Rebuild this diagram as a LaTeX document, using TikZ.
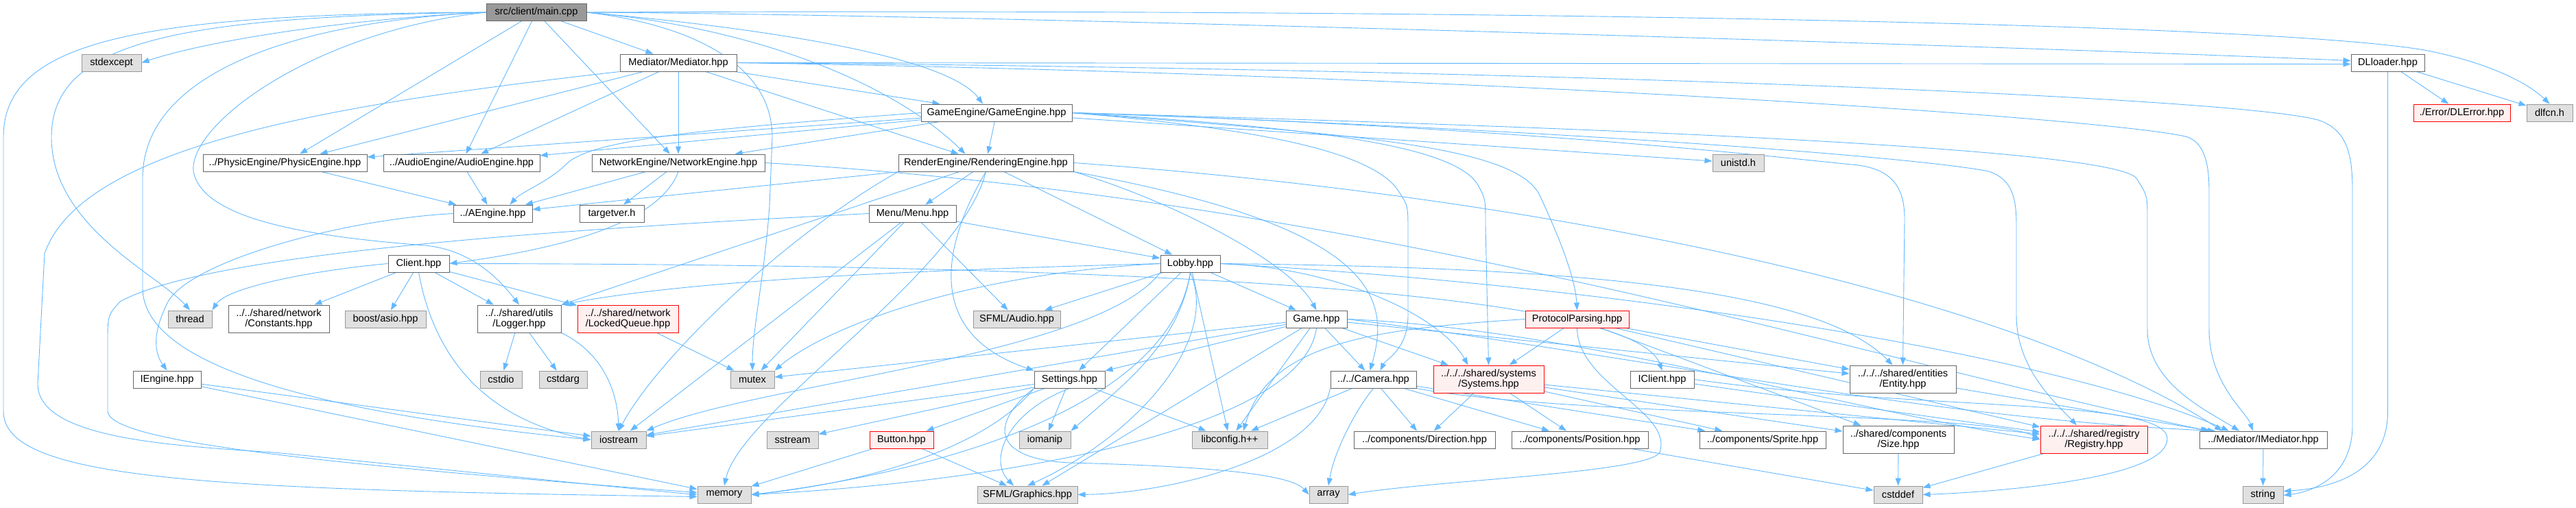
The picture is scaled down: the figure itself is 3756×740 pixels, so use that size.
\documentclass[tikz,border=0pt]{standalone}
\usepackage{fontspec}
\setmainfont{Liberation Sans}
\usetikzlibrary{arrows.meta}
\pgfdeclarelayer{bg}
\pgfsetlayers{bg,main}
\definecolor{edgec}{HTML}{63B8FF}
\definecolor{bord}{HTML}{666666}
\definecolor{extfill}{HTML}{E0E0E0}
\definecolor{extbord}{HTML}{999999}
\definecolor{redfill}{HTML}{FFF0F0}
\definecolor{rootfill}{HTML}{999999}
\tikzset{
  nbox/.style={draw=bord, fill=white, line width=1pt, minimum height=25pt, inner sep=0pt,
               font=\fontsize{14.6pt}{15.5pt}\selectfont, align=center},
  extn/.style={nbox, draw=extbord, fill=extfill},
  trunc/.style={nbox, draw=red, fill=redfill},
  rootn/.style={nbox, fill=rootfill},
  dbl/.style={minimum height=40pt},
  edg/.style={draw=edgec, line width=0.9pt, -{Triangle[length=11pt,width=8pt]}},
}
\begin{document}
\begin{tikzpicture}[x=1pt,y=1pt]
\useasboundingbox (0,0) rectangle (3756,-740);
% row 0
\node[rootn, minimum width=146pt] (main) at (782,-18) {src/client/main.cpp};
% row 1
\node[extn, minimum width=87pt] (stdexcept) at (162.5,-91.5) {stdexcept};
\node[nbox, minimum width=170pt] (mediator) at (989,-91.5) {Mediator/Mediator.hpp};
\node[nbox, minimum width=107pt] (dlloader) at (3481.5,-91.5) {DLloader.hpp};
% row 2
\node[nbox, minimum width=220pt] (gameengine) at (1453,-164.5) {GameEngine/GameEngine.hpp};
\node[trunc, minimum width=141pt] (dlerror) at (3589.5,-164.5) {./Error/DLError.hpp};
\node[extn, minimum width=67pt] (dlfcn) at (3717.5,-164.5) {dlfcn.h};
% row 3
\node[nbox, minimum width=239pt] (physic) at (415.5,-237.5) {../PhysicEngine/PhysicEngine.hpp};
\node[nbox, minimum width=228pt] (audio) at (673,-237.5) {../AudioEngine/AudioEngine.hpp};
\node[nbox, minimum width=252pt] (network) at (989,-237.5) {NetworkEngine/NetworkEngine.hpp};
\node[nbox, minimum width=255pt] (render) at (1437.5,-237.5) {RenderEngine/RenderingEngine.hpp};
\node[extn, minimum width=75pt] (unistd) at (2534.5,-237.5) {unistd.h};
% row 4
\node[nbox, minimum width=115pt] (aengine) at (718.5,-311.5) {../AEngine.hpp};
\node[nbox, minimum width=94pt] (targetver) at (892,-311.5) {targetver.h};
\node[nbox, minimum width=127pt] (menu) at (1330.5,-311.5) {Menu/Menu.hpp};
% row 5
\node[nbox, minimum width=89pt] (client) at (610.5,-384.5) {Client.hpp};
\node[nbox, minimum width=87pt] (lobby) at (1735.5,-384.5) {Lobby.hpp};
% row 6
\node[extn, minimum width=64pt] (thread) at (277,-465.5) {thread};
\node[nbox, dbl, minimum width=147pt] (constants) at (406.5,-465) {../../shared/network\\/Constants.hpp};
\node[extn, minimum width=118pt] (boost) at (562,-465.5) {boost/asio.hpp};
\node[nbox, dbl, minimum width=122pt] (logger) at (757,-465) {../../shared/utils\\/Logger.hpp};
\node[trunc, dbl, minimum width=147pt] (lockedq) at (915.5,-465) {../../shared/network\\/LockedQueue.hpp};
\node[extn, minimum width=127pt] (sfmlaudio) at (1482.5,-465.5) {SFML/Audio.hpp};
\node[nbox, minimum width=89pt] (game) at (1919.5,-465.5) {Game.hpp};
\node[trunc, minimum width=151pt] (protocol) at (2299.5,-465.5) {ProtocolParsing.hpp};
% row 7
\node[nbox, minimum width=99pt] (iengine) at (243.5,-553.5) {IEngine.hpp};
\node[extn, minimum width=61pt] (cstdio) at (730.5,-553.5) {cstdio};
\node[extn, minimum width=70pt] (cstdarg) at (821,-553.5) {cstdarg};
\node[extn, minimum width=64pt] (mutex) at (1097,-553.5) {mutex};
\node[nbox, minimum width=103pt] (settings) at (1559.5,-553.5) {Settings.hpp};
\node[nbox, minimum width=125pt] (camera) at (2002.5,-553.5) {../../Camera.hpp};
\node[trunc, dbl, minimum width=161pt] (systems) at (2170.5,-553) {../../../shared/systems\\/Systems.hpp};
\node[nbox, minimum width=93pt] (iclient) at (2423.5,-553.5) {IClient.hpp};
\node[nbox, dbl, minimum width=155pt] (entity) at (2774.5,-553) {../../../shared/entities\\/Entity.hpp};
% row 8
\node[extn, minimum width=80pt] (iostream) at (902,-641.5) {iostream};
\node[extn, minimum width=75pt] (sstream) at (1155.5,-641.5) {sstream};
\node[trunc, minimum width=93pt] (button) at (1314.5,-641.5) {Button.hpp};
\node[extn, minimum width=75pt] (iomanip) at (1523.5,-641.5) {iomanip};
\node[extn, minimum width=110pt] (libconfig) at (1793,-641.5) {libconfig.h++};
\node[nbox, minimum width=206pt] (direction) at (2077,-641.5) {../components/Direction.hpp};
\node[nbox, minimum width=199pt] (position) at (2303.5,-641.5) {../components/Position.hpp};
\node[nbox, minimum width=184pt] (sprite) at (2570,-641.5) {../components/Sprite.hpp};
\node[nbox, dbl, minimum width=162pt] (size) at (2768,-641) {../shared/components\\/Size.hpp};
\node[trunc, dbl, minimum width=156pt] (registry) at (3053,-641) {../../../shared/registry\\/Registry.hpp};
\node[nbox, minimum width=186pt] (imediator) at (3300,-641.5) {../Mediator/IMediator.hpp};
% row 9
\node[extn, minimum width=78pt] (memory) at (1056,-721.5) {memory};
\node[extn, minimum width=146pt] (sfmlgraphics) at (1498,-721.5) {SFML/Graphics.hpp};
\node[extn, minimum width=56pt] (array) at (1937,-721.5) {array};
\node[extn, minimum width=71pt] (cstddef) at (2767.5,-721.5) {cstddef};
\node[extn, minimum width=59pt] (string) at (3299.5,-721.5) {string};

\begin{pgfonlayer}{bg}
% straight connectors
\foreach \a/\b in {main/mediator, main/physic, main/audio, main/network,
  mediator/physic, mediator/audio, mediator/network, mediator/render, mediator/gameengine,
  gameengine/physic, gameengine/audio, gameengine/network, gameengine/render, gameengine/unistd,
  physic/aengine, audio/aengine, network/aengine, network/targetver,
  render/menu, render/lobby, render/aengine, render/logger,
  menu/lobby, menu/sfmlaudio, menu/iostream, menu/mutex,
  client/constants, client/boost, client/logger, client/lockedq,
  logger/cstdio, logger/cstdarg, lockedq/mutex,
  iengine/iostream, iengine/memory,
  lobby/game, lobby/sfmlaudio, lobby/settings, lobby/libconfig,
  game/camera, game/systems, game/settings, game/libconfig, game/sfmlgraphics, game/mutex, game/iostream, game/entity,
  protocol/systems, protocol/entity, protocol/registry, protocol/size,
  settings/button, settings/iomanip, settings/libconfig, settings/iostream, settings/sstream,
  button/sfmlgraphics, button/memory,
  camera/direction, camera/position, camera/sprite, camera/libconfig,
  systems/direction, systems/position, systems/sprite, systems/size, systems/registry,
  iclient/registry, entity/imediator, size/cstddef, registry/cstddef, position/cstddef,
  imediator/string, dlloader/dlerror, dlloader/dlfcn}
  \draw[edg] (\a) -- (\b);
% main
\draw[edg] (main.west) .. controls (500,-28) and (300,-60) .. (stdexcept.east);
\draw[edg] (main.west) .. controls (200,-20) and (5,-60) .. (5,-200) -- (5,-600) .. controls (5,-700) and (300,-714) .. ([yshift=-3pt]memory.west);
\draw[edg] (main.west) .. controls (260,-24) and (75,-60) .. (75,-200) .. controls (75,-330) and (230,-400) .. (thread.north);
\draw[edg] (main.west) .. controls (420,-32) and (208,-110) .. (208,-260) -- (208,-420) .. controls (208,-560) and (600,-615) .. (iostream.west);
\draw[edg] (main.west) .. controls (460,-45) and (275,-180) .. (282,-250) .. controls (295,-320) and (450,-345) .. (620,-358) .. controls (690,-365) and (730,-410) .. (logger.north);
\draw[edg] (main.east) .. controls (1000,-35) and (1126,-90) .. (1126,-200) -- (1122,-300) .. controls (1115,-400) and (1097,-480) .. (mutex.north);
\draw[edg] (main.east) .. controls (1100,-40) and (1380,-80) .. ([xshift=-20pt]gameengine.north);
\draw[edg] (main.east) .. controls (1100,-40) and (1300,-120) .. ([xshift=-30pt]render.north);
\draw[edg] (main.east) .. controls (1500,-22) and (3000,-70) .. ([yshift=3pt]dlloader.west);
\draw[edg] (main.east) .. controls (2200,-12) and (3350,-35) .. (3545,-75) .. controls (3640,-95) and (3690,-125) .. (dlfcn.north);
% mediator
\draw[edg] (mediator.east) -- ([yshift=-2pt]dlloader.west);
\draw[edg] (mediator.east) .. controls (2200,-100) and (3250,-140) .. (3380,-175) .. controls (3425,-190) and (3430,-230) .. (3430,-280) -- (3430,-620) .. controls (3430,-690) and (3380,-716) .. ([yshift=-1pt]string.east);
\draw[edg] (mediator.east) .. controls (2200,-110) and (3100,-175) .. (3190,-200) .. controls (3215,-210) and (3221,-240) .. (3221,-280) -- (3221,-480) .. controls (3221,-560) and (3275,-600) .. ([xshift=-15pt]imediator.north);
\draw[edg] (mediator.south west) .. controls (500,-150) and (120,-210) .. (65,-370) -- (55,-560) .. controls (55,-640) and (250,-650) .. (400,-660) .. controls (700,-690) and (950,-716) .. (memory.west);
% game engine
\draw[edg] (gameengine.west) .. controls (1000,-190) and (860,-205) .. (825,-240) .. controls (800,-265) and (760,-280) .. ([xshift=25pt]aengine.north);
\draw[edg] (gameengine.east) .. controls (1800,-185) and (2000,-215) .. (2040,-280) .. controls (2053,-300) .. (2053,-340) -- (2053,-460) .. controls (2053,-510) and (2020,-525) .. ([xshift=10pt]camera.north);
\draw[edg] (gameengine.east) .. controls (1900,-185) and (2120,-210) .. (2155,-270) .. controls (2166,-290) .. (2166,-330) -- (systems.north);
\draw[edg] (gameengine.east) .. controls (1950,-195) and (2210,-210) .. (2245,-285) .. controls (2280,-360) and (2297,-410) .. (protocol.north);
\draw[edg] (gameengine.east) .. controls (2200,-185) and (2550,-225) .. (2700,-240) .. controls (2765,-245) and (2777,-280) .. (2777,-320) -- (entity.north);
\draw[edg] (gameengine.east) .. controls (2300,-190) and (2800,-230) .. (2900,-250) .. controls (2935,-262) and (2940,-290) .. (2940,-330) -- (2940,-460) .. controls (2940,-540) and (3000,-590) .. ([xshift=-25pt]registry.north);
\draw[edg] (gameengine.east) .. controls (2300,-185) and (3080,-215) .. (3115,-260) .. controls (3131,-285) .. (3131,-320) -- (3131,-480) .. controls (3131,-560) and (3220,-600) .. ([xshift=-35pt]imediator.north);
\draw[edg] (dlloader.south) -- (3481.5,-600) .. controls (3481.5,-690) and (3400,-712) .. ([yshift=5pt]string.east);
% network
\draw[edg] (network.south) .. controls (960,-330) and (800,-365) .. (client.east);
\draw[edg] (network.east) .. controls (2000,-290) and (2700,-520) .. ([xshift=-80pt]imediator.north);
% render
\draw[edg] (render.east) .. controls (2300,-290) and (2950,-440) .. ([xshift=-60pt]imediator.north);
\draw[edg] (render.south west) .. controls (1150,-340) and (960,-520) .. (iostream.north);
\draw[edg] (render.south) .. controls (1400,-400) and (1080,-600) .. (memory.north);
\draw[edg] (render.south east) .. controls (1700,-290) and (1880,-380) .. (game.north);
\draw[edg] (render.south east) .. controls (2000,-330) and (2030,-430) .. ([xshift=-5pt]camera.north);
\draw[edg] (render.south) .. controls (1390,-330) and (1330,-480) .. (settings.north west);
% menu, aengine
\draw[edg] (menu.west) .. controls (800,-335) and (300,-370) .. (175,-440) .. controls (157,-460) .. (157,-500) -- (157,-600) .. controls (160,-640) and (400,-672) .. ([yshift=3pt]memory.west);
\draw[edg] (aengine.west) .. controls (500,-320) and (280,-380) .. (245,-440) .. controls (225,-480) and (222,-510) .. (iengine.north);
% client
\draw[edg] (client.west) .. controls (450,-395) and (330,-420) .. (thread.north east);
\draw[edg] (client.south) .. controls (640,-560) and (750,-620) .. (iostream.west);
\draw[edg] (client.east) .. controls (1600,-385) and (2380,-420) .. (iclient.north);
% lobby
\draw[edg] (lobby.west) .. controls (1300,-395) and (1000,-410) .. (logger.north east);
\draw[edg] (lobby.south) .. controls (1720,-500) and (1640,-560) .. (iomanip.north east);
\draw[edg] (lobby.south) .. controls (1780,-500) and (1650,-640) .. (sfmlgraphics.north);
\draw[edg] (lobby.south west) .. controls (1600,-520) and (1100,-560) .. (iostream.north east);
\draw[edg] (lobby.west) .. controls (1400,-400) and (1200,-480) .. (mutex.north east);
\draw[edg] (lobby.east) .. controls (1950,-390) and (2100,-460) .. ([xshift=-30pt]systems.north);
\draw[edg] (lobby.east) .. controls (2300,-390) and (2650,-420) .. ([xshift=-15pt]entity.north);
\draw[edg] (lobby.east) .. controls (2400,-420) and (3000,-520) .. ([xshift=-50pt]imediator.north);
\draw[edg] (lobby.south) .. controls (1700,-620) and (1280,-700) .. (memory.east);
% game
\draw[edg] (game.east) .. controls (2300,-480) and (2700,-600) .. (registry.west);
\draw[edg] (game.east) .. controls (2400,-520) and (2800,-610) .. ([xshift=-70pt]imediator.north);
\draw[edg] (game.south) .. controls (1900,-620) and (1500,-700) .. (memory.east);
% protocol
\draw[edg] (protocol.west) .. controls (2000,-480) and (1850,-500) .. ([xshift=20pt]libconfig.north);
\draw[edg] (protocol.south) .. controls (2300,-560) and (2440,-600) .. (2420,-660) .. controls (2400,-690) and (2100,-700) .. (array.east);
% settings
\draw[edg] (settings.south) .. controls (1470,-600) and (1440,-670) .. ([xshift=-20pt]sfmlgraphics.north);
\draw[edg] (settings.south west) .. controls (1450,-640) and (1300,-700) .. (memory.east);
\draw[edg] (settings.south west) .. controls (1440,-620) and (1450,-670) .. (1560,-675) .. controls (1750,-680) and (1880,-690) .. (array.west);
% camera
\draw[edg] (camera.south) .. controls (1975,-600) and (1945,-660) .. (array.north);
\draw[edg] (camera.south west) .. controls (1920,-670) and (1700,-720) .. (sfmlgraphics.east);
\draw[edg] (camera.south east) .. controls (2300,-610) and (2900,-600) .. (registry.west);
% iclient
\draw[edg] (iclient.east) .. controls (2800,-600) and (3160,-580) .. (3160,-640) .. controls (3160,-700) and (2900,-718) .. (cstddef.east);
% logger
\draw[edg] (logger.south east) .. controls (870,-510) and (900,-560) .. (iostream.north);
\end{pgfonlayer}
\end{tikzpicture}
\end{document}
